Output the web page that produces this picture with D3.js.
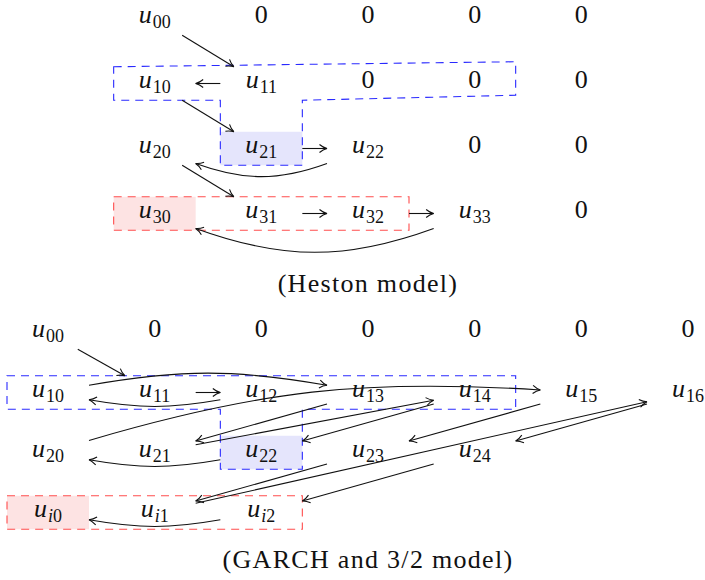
<!DOCTYPE html>
<html lang="en">
<head>
    <meta charset="UTF-8">
    <script src="https://d3js.org/d3.v7.min.js"></script>
    <title>Heston and GARCH recursion schemes</title>
    <style>
        body { margin: 0; background: #fff; }
        text { font-family: "Liberation Serif", "DejaVu Serif", serif; }
    </style>
</head>
<body>
<div id="chart"></div>
<script>
    // grid labels, one list per row ("u_ij" = u with subscript ij)
    const hestonLabels = [
        ["u_00", "0", "0", "0", "0"],
        ["u_10", "u_11", "0", "0", "0"],
        ["u_20", "u_21", "u_22", "0", "0"],
        ["u_30", "u_31", "u_32", "u_33", "0"]
    ];
    const garchLabels = [
        ["u_00", "0", "0", "0", "0", "0", "0"],
        ["u_10", "u_11", "u_12", "u_13", "u_14", "u_15", "u_16"],
        ["u_20", "u_21", "u_22", "u_23", "u_24"],
        ["u_i0", "u_i1", "u_i2"]
    ];

    // arrows: [fromRow, fromCol, toRow, toCol, bendLeft (deg)]
    const hestonArrows = [
        [0, 0, 1, 1, 0], [1, 1, 1, 0, 0], [1, 0, 2, 1, 0], [2, 1, 2, 2, 0],
        [2, 2, 2, 0, 20], [2, 0, 3, 1, 0], [3, 1, 3, 2, 0], [3, 2, 3, 3, 0],
        [3, 3, 3, 0, 20]
    ];
    const garchArrows = [
        [0, 0, 1, 1, 0], [1, 0, 1, 3, 10], [1, 1, 1, 2, 0], [1, 2, 1, 0, 10],
        [2, 0, 1, 5, 10], [1, 3, 2, 1, 0], [2, 1, 1, 4, 0], [1, 4, 2, 2, 0],
        [1, 5, 2, 3, 0], [1, 6, 2, 4, 0], [2, 2, 2, 0, 10], [2, 3, 3, 1, 0],
        [3, 1, 1, 6, 0], [2, 4, 3, 2, 0], [3, 2, 3, 0, 10]
    ];

    // blue dashed region: node corners [row, col, anchor]
    const hestonBlue = [[1,0,"nw"],[1,3,"ne"],[1,3,"se"],[1,1,"se"],[2,1,"se"],[2,1,"sw"],[1,1,"sw"],[1,0,"sw"]];
    const garchBlue  = [[1,0,"nw"],[1,4,"ne"],[1,4,"se"],[1,2,"se"],[2,2,"se"],[2,2,"sw"],[1,2,"sw"],[1,0,"sw"]];
    // red dashed box [row, col from, col to]; shaded cells [row, col]
    const hestonRed = [3, 0, 2], garchRed = [3, 0, 2];
    const hestonBlueCell = [2, 1], garchBlueCell = [2, 2];
    const hestonRedCell = [3, 0], garchRedCell = [3, 0];

    const captions = ["(Heston model)", "(GARCH and 3/2 model)"];

    const W = 705, H = 580;
    const hw = 41, hh = 16.75;      // half size of a matrix node
    const zeroLift = 5;              // "0" nodes sit a little higher (no depth)

    const x = d3.scaleLinear().domain([0, 6]).range([48, 688]);
    const yHeston = d3.scaleLinear().domain([0, 3]).range([18.5, 213.5]);
    const yGarch = d3.scaleLinear().domain([0, 3]).range([332.5, 512.5]);

    const svg = d3.select("#chart").append("svg")
        .attr("width", W).attr("height", H);
    svg.append("rect").attr("width", W).attr("height", H).attr("fill", "#fff");

    function drawPanel(cfg) {
        const g = svg.append("g");
        const cx = c => x(c + cfg.colOffset);
        const cy = (r, c) => cfg.y(r) - (cfg.labels[r][c] === "0" ? zeroLift : 0);
        const corner = (r, c, a) => [
            cx(c) + (a[1] === "e" ? hw : -hw),
            cy(r, c) + (a[0] === "s" ? hh : -hh)
        ];

        // shaded cells
        [[cfg.blueCell, "#e5e5fc"], [cfg.redCell, "#fde3e3"]].forEach(([cell, col]) => {
            g.append("rect")
                .attr("x", cx(cell[1]) - hw).attr("y", cy(cell[0], cell[1]) - hh)
                .attr("width", 2 * hw).attr("height", 2 * hh)
                .attr("fill", col);
        });

        // labels
        cfg.labels.forEach((row, r) => row.forEach((lab, c) => {
            const t = g.append("text")
                .attr("x", cx(c)).attr("y", cfg.y(r) + 4.5)
                .attr("text-anchor", "middle")
                .attr("font-size", 26)
                .attr("fill", "#111");
            if (lab === "0") { t.text("0"); return; }
            const [base, sub] = lab.split("_");
            t.append("tspan").attr("font-style", "italic").text(base);
            sub.split("").forEach((ch, i) => {
                const s = t.append("tspan")
                    .attr("font-size", 18)
                    .attr("font-style", /[a-z]/.test(ch) ? "italic" : "normal")
                    .text(ch);
                if (i === 0) s.attr("dy", 5).attr("dx", 1);
            });
        }));

        // dashed regions
        g.append("path")
            .attr("d", d3.line()(cfg.blue.map(p => corner(...p))) + "Z")
            .attr("fill", "none").attr("stroke", "#2a2aff")
            .attr("stroke-width", 1.1).attr("stroke-dasharray", "8,6");
        const [rr, c0, c1] = cfg.red;
        const p0 = corner(rr, c0, "nw"), p1 = corner(rr, c1, "se");
        g.append("rect")
            .attr("x", p0[0]).attr("y", p0[1])
            .attr("width", p1[0] - p0[0]).attr("height", p1[1] - p0[1])
            .attr("fill", "none").attr("stroke", "#ff4d4d")
            .attr("stroke-width", 1.1).attr("stroke-dasharray", "8,6");

        // arrows
        const border = (px, py, phi) => {
            const co = Math.cos(phi), si = Math.sin(phi);
            const t = Math.min(Math.abs(co) > 1e-9 ? hw / Math.abs(co) : 1e9,
                               Math.abs(si) > 1e-9 ? hh / Math.abs(si) : 1e9);
            return [px + t * co, py + t * si];
        };
        cfg.arrows.forEach(([r0, c0_, r1, c1_, bend]) => {
            const ax = cx(c0_), ay = cy(r0, c0_), bx = cx(c1_), by = cy(r1, c1_);
            const th = Math.atan2(by - ay, bx - ax);
            const b = bend * Math.PI / 180;
            const s = border(ax, ay, th - b);
            const e = border(bx, by, th + Math.PI + b);
            let d, ang;
            if (bend === 0) {
                d = `M${s[0]},${s[1]}L${e[0]},${e[1]}`;
                ang = Math.atan2(e[1] - s[1], e[0] - s[0]);
            } else {
                const L = 0.3915 * Math.hypot(e[0] - s[0], e[1] - s[1]);
                const k1 = [s[0] + L * Math.cos(th - b), s[1] + L * Math.sin(th - b)];
                const k2 = [e[0] + L * Math.cos(th + Math.PI + b), e[1] + L * Math.sin(th + Math.PI + b)];
                d = `M${s[0]},${s[1]}C${k1[0]},${k1[1]} ${k2[0]},${k2[1]} ${e[0]},${e[1]}`;
                ang = Math.atan2(e[1] - k2[1], e[0] - k2[0]);
            }
            g.append("path").attr("d", d)
                .attr("fill", "none").attr("stroke", "#111").attr("stroke-width", 1.1);
            g.append("path")
                .attr("d", "M-7.5,-4 C-4.8,-1.7 -1.6,-0.4 0,0 C-1.6,0.4 -4.8,1.7 -7.5,4")
                .attr("transform", `translate(${e[0]},${e[1]}) rotate(${ang * 180 / Math.PI})`)
                .attr("fill", "none").attr("stroke", "#111").attr("stroke-width", 1.1);
        });

        g.append("text")
            .attr("x", cfg.captionX).attr("y", cfg.captionY)
            .attr("text-anchor", "middle").attr("font-size", 26)
            .attr("letter-spacing", 1.3).attr("fill", "#111")
            .text(cfg.caption);
    }

    drawPanel({
        labels: hestonLabels, arrows: hestonArrows, blue: hestonBlue, red: hestonRed,
        blueCell: hestonBlueCell, redCell: hestonRedCell, colOffset: 1, y: yHeston,
        caption: captions[0], captionX: 368, captionY: 292
    });
    drawPanel({
        labels: garchLabels, arrows: garchArrows, blue: garchBlue, red: garchRed,
        blueCell: garchBlueCell, redCell: garchRedCell, colOffset: 0, y: yGarch,
        caption: captions[1], captionX: 368, captionY: 568
    });
</script>
</body>
</html>
